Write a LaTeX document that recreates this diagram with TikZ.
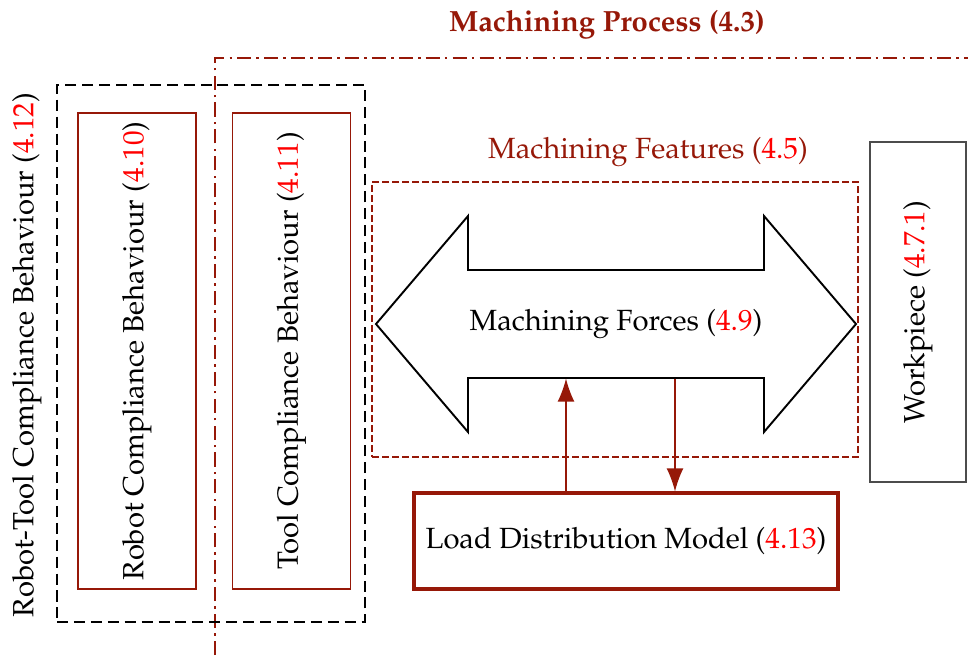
\documentclass[tikz,border=0pt]{standalone}
\usepackage[T1]{fontenc}
\renewcommand{\rmdefault}{ppl}
\usepackage{xcolor}
\usetikzlibrary{arrows.meta,calc}
\definecolor{ColorMach}{RGB}{150,24,8}
\newlength\pxu
\setlength\pxu{0.39pt}
\newcommand\refnum[1]{\textcolor{red}{#1}}

\begin{document}
\begin{tikzpicture}[x=\pxu, y=-\pxu,
        every node/.style={inner sep=0pt, font=\fontsize{11.4}{13}\selectfont},
        compbox/.style={draw=ColorMach, line width=0.5pt, rotate=90, minimum width=476\pxu, minimum height=118\pxu},
        flow/.style={ColorMach, line width=0.55pt, -{Latex[length=9pt,width=6.6pt]}}]
        \useasboundingbox (0,0) rectangle (968,655);
        \node[text=ColorMach, font=\fontsize{11.4}{13}\selectfont\bfseries] (proctitle) at (607,25) {Machining Process (4.3)};
        \coordinate (procbot) at (215,655);
        \coordinate (proccorner) at (215,58);
        \coordinate (procend) at (968,58);
        \draw[ColorMach, line width=0.8pt, dash pattern=on 5.5pt off 2pt on 1pt off 2pt] (procbot) -- (proccorner) -- (procend);
        \node[draw, line width=0.8pt, dash pattern=on 4.3pt off 2.3pt, minimum width=308\pxu, minimum height=537\pxu] (rtgroup) at (211,353.5) {};
        \node[rotate=90] (rtlabel) at (27,355) {Robot-Tool Compliance Behaviour (\refnum{4.12})};
        \node[compbox] (robot) at (137,351) {Robot Compliance Behaviour (\refnum{4.10})};
        \node[compbox] (tool) at (291.5,351) {Tool Compliance Behaviour (\refnum{4.11})};
        \node[draw=ColorMach, line width=0.5pt, dash pattern=on 2.7pt off 1.2pt, minimum width=486\pxu, minimum height=275\pxu] (features) at (615,319.5) {};
        \node[text=ColorMach] (featlabel) at (648,152) {Machining Features (\refnum{4.5})};
        \node[minimum height=108\pxu] (forces) at (616,324) {Machining Forces (\refnum{4.9})};
        \draw[line width=0.75pt] ($(forces.center)+(-240,0)$) -- ($(forces.center)+(-148,-108)$) -- ($(forces.center)+(-148,-54)$) -- ($(forces.center)+(148,-54)$) -- ($(forces.center)+(148,-108)$) -- ($(forces.center)+(240,0)$) -- ($(forces.center)+(148,108)$) -- ($(forces.center)+(148,54)$) -- ($(forces.center)+(-148,54)$) -- ($(forces.center)+(-148,108)$) -- cycle;
        \node[draw=black!70, line width=0.5pt, rotate=90, minimum width=340\pxu, minimum height=96\pxu] (workpiece) at (918,312) {Workpiece (\refnum{4.7.1})};
        \node[draw=ColorMach, line width=1.2pt, minimum width=424\pxu, minimum height=96\pxu] (load) at (626,541) {Load Distribution Model (\refnum{4.13})};
        \coordinate (upx) at (566,0);
        \coordinate (dnx) at (675,0);
        \draw[flow] (load.north -| upx) -- (forces.south -| upx);
        \draw[flow] (forces.south -| dnx) -- (load.north -| dnx);
    \end{tikzpicture}
\end{document}
